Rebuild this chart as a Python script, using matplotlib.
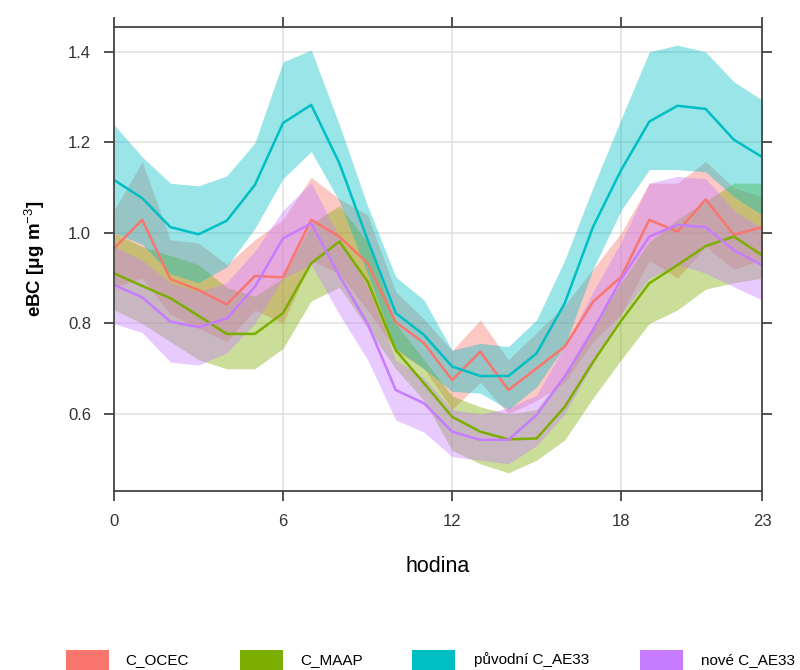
import numpy as np
import matplotlib
matplotlib.use('Agg')
import matplotlib.pyplot as plt
from matplotlib.patches import Rectangle

plt.rcParams['font.family'] = ['Liberation Sans', 'DejaVu Sans']
plt.rcParams['mathtext.fontset'] = 'custom'
plt.rcParams['mathtext.rm'] = 'Liberation Sans'
plt.rcParams['mathtext.bf'] = 'Liberation Sans:bold'

hours = np.arange(24)

# C_OCEC
ocec = [0.966, 1.029, 0.898, 0.874, 0.842, 0.905, 0.902, 1.029, 0.992, 0.933, 0.803, 0.757,
        0.675, 0.738, 0.653, 0.701, 0.749, 0.848, 0.903, 1.029, 1.003, 1.074, 0.996, 1.013]
ocec_hi = [1.05, 1.157, 0.985, 0.978, 0.93, 0.985, 1.03, 1.123, 1.075, 1.04, 0.87, 0.81,
           0.74, 0.808, 0.72, 0.78, 0.84, 0.92, 1.0, 1.11, 1.11, 1.158, 1.10, 1.08]
ocec_lo = [0.88, 0.90, 0.82, 0.79, 0.76, 0.83, 0.80, 0.94, 0.91, 0.83, 0.74, 0.70,
           0.61, 0.67, 0.60, 0.63, 0.67, 0.76, 0.82, 0.94, 0.90, 0.97, 0.92, 0.94]

# C_MAAP
maap = [0.911, 0.883, 0.856, 0.817, 0.777, 0.777, 0.823, 0.933, 0.981, 0.893, 0.741, 0.668,
        0.594, 0.561, 0.544, 0.546, 0.616, 0.715, 0.806, 0.889, 0.929, 0.971, 0.992, 0.951]
maap_hi = [1.0, 0.97, 0.95, 0.93, 0.88, 0.86, 0.90, 1.02, 1.06, 0.98, 0.80, 0.72,
           0.64, 0.616, 0.60, 0.61, 0.69, 0.795, 0.89, 0.98, 1.03, 1.07, 1.11, 1.11]
maap_lo = [0.83, 0.80, 0.76, 0.72, 0.70, 0.70, 0.745, 0.85, 0.88, 0.79, 0.70, 0.63,
           0.52, 0.49, 0.47, 0.498, 0.543, 0.635, 0.72, 0.80, 0.83, 0.876, 0.89, 0.90]

# puvodni C_AE33
ae33_old = [1.117, 1.077, 1.013, 0.997, 1.027, 1.106, 1.243, 1.283, 1.154, 0.985, 0.823, 0.775,
            0.705, 0.684, 0.684, 0.734, 0.845, 1.013, 1.139, 1.246, 1.281, 1.274, 1.206, 1.168]
ae33_old_hi = [1.239, 1.168, 1.11, 1.104, 1.126, 1.199, 1.378, 1.404, 1.239, 1.06, 0.903, 0.852,
               0.741, 0.756, 0.749, 0.808, 0.94, 1.10, 1.252, 1.40, 1.415, 1.40, 1.334, 1.294]
ae33_old_lo = [1.0, 0.975, 0.91, 0.89, 0.925, 1.01, 1.12, 1.18, 1.07, 0.91, 0.745, 0.70,
               0.65, 0.646, 0.61, 0.66, 0.75, 0.92, 1.05, 1.14, 1.14, 1.135, 1.08, 1.04]

# nove C_AE33
ae33_new = [0.885, 0.858, 0.804, 0.792, 0.811, 0.881, 0.988, 1.021, 0.905, 0.80, 0.653, 0.624,
            0.561, 0.543, 0.543, 0.598, 0.683, 0.785, 0.898, 0.992, 1.018, 1.013, 0.962, 0.929]
ae33_new_hi = [0.97, 0.94, 0.89, 0.87, 0.89, 0.96, 1.05, 1.111, 0.99, 0.88, 0.72, 0.68,
               0.61, 0.60, 0.613, 0.642, 0.75, 0.87, 0.98, 1.11, 1.125, 1.12, 1.05, 1.01]
ae33_new_lo = [0.80, 0.78, 0.715, 0.708, 0.735, 0.80, 0.90, 0.93, 0.82, 0.72, 0.587, 0.56,
               0.506, 0.498, 0.49, 0.53, 0.60, 0.71, 0.82, 0.90, 0.93, 0.911, 0.881, 0.852]

names = ['C_OCEC', 'C_MAAP', 'původní C_AE33', 'nové C_AE33']
colors = ['#F8766D', '#7CAE00', '#00BFC4', '#C77CFF']
series = [(ocec, ocec_lo, ocec_hi), (maap, maap_lo, maap_hi),
          (ae33_old, ae33_old_lo, ae33_old_hi), (ae33_new, ae33_new_lo, ae33_new_hi)]

fig = plt.figure(figsize=(8, 6.7), dpi=100)
ax = fig.add_axes([0.1425, 0.2672, 0.81, 0.6925])

# grid first so the shading sits on top
for x in [6, 12, 18]:
    ax.axvline(x, color='#e0e0e0', lw=1.1, zorder=0)
for y in [0.6, 0.8, 1.0, 1.2, 1.4]:
    ax.axhline(y, color='#e0e0e0', lw=1.1, zorder=0)

# each series: shaded interval then mean line
for (mean, lo, hi), c in zip(series, colors):
    ax.fill_between(hours, lo, hi, color=c, alpha=0.4, lw=0)
    ax.plot(hours, mean, color=c, lw=1.8)

ax.set_xlim(0, 23)
ax.set_ylim(0.43, 1.455)
ax.set_xticks([0, 6, 12, 18, 23])
ax.set_yticks([0.6, 0.8, 1.0, 1.2, 1.4])
ax.set_yticklabels(['0.6', '0.8', '1.0', '1.2', '1.4'])
ax.tick_params(direction='out', length=7.5, width=1.2, top=True, right=True,
               labelsize=12, colors='#333333')
ax.tick_params(axis='y', pad=9)
ax.tick_params(axis='x', pad=9)
for s in ax.spines.values():
    s.set_color('#444444')
    s.set_linewidth(1.3)

ax.set_ylabel('eBC [μg m$^{-3}$]', fontsize=13.5, fontweight='bold')
ax.yaxis.set_label_coords(-0.103, 0.5)

fig.text(438 / 800, 1 - 567 / 670, 'hodina', ha='center', va='center', fontsize=15.5)

# legend along the bottom edge
W, H = 800, 670
patch_x = [66, 240, 412, 640]
text_x = [125, 300, 474, 701]
for px, tx, name, c in zip(patch_x, text_x, names, colors):
    fig.add_artist(Rectangle((px / W, 0), 43 / W, 20 / H, transform=fig.transFigure,
                             color=c, lw=0))
    fig.text(tx / W, 1 - 660 / H, name, ha='left', va='center', fontsize=11)

fig.savefig('out.png', dpi=100)
